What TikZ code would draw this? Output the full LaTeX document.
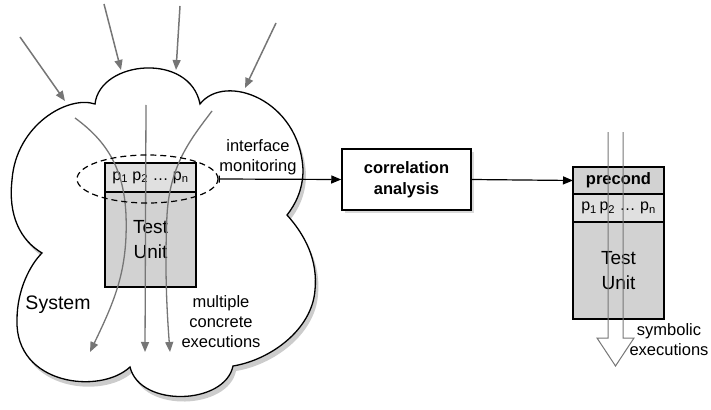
\documentclass[tikz,border=0pt]{standalone}
\usepackage{fontspec}
\setmainfont{Liberation Sans}
\usepackage{tikz}
\usetikzlibrary{arrows.meta,positioning,shapes.geometric,shadows}

\definecolor{unitgray}{RGB}{210,210,210}
\definecolor{rowgray}{RGB}{224,224,224}
\definecolor{flowgray}{RGB}{118,118,118}

\tikzset{
    lbl/.style={align=center, inner sep=0pt, font=\fontsize{16.5}{20}\selectfont},
    unitbox/.style={draw, line width=1.2pt, fill=unitgray, minimum width=91pt, inner sep=0pt, outer sep=0pt, align=center, font=\fontsize{19}{25}\selectfont},
    rowbox/.style={draw, line width=1.2pt, fill=rowgray, minimum width=91pt, inner sep=0pt, outer sep=0pt, font=\fontsize{16}{18}\selectfont},
    prebox/.style={draw, line width=2.8pt, fill=unitgray, minimum width=91pt, minimum height=27pt, inner sep=0pt, outer sep=0pt, font=\bfseries\fontsize{16.5}{20}\selectfont},
    corrbox/.style={draw, line width=1.5pt, fill=white, minimum width=129pt, minimum height=61pt, align=center, font=\bfseries\fontsize{16.5}{21}\selectfont, drop shadow={opacity=.3, shadow xshift=3pt, shadow yshift=-3pt}},
    feed/.style={draw=flowgray, fill=flowgray, line width=1.5pt, ->},
    run/.style={draw=flowgray, line width=1.3pt, ->}
}

\begin{document}
\begin{tikzpicture}[x=1pt, y=-1pt, >={Triangle[length=10pt,width=8pt]}, node distance=0pt]
    \useasboundingbox (0,0) rectangle (711,409);

    % System cloud
    \path [draw, fill=white, line width=1.3pt, drop shadow={opacity=.4, shadow xshift=3pt, shadow yshift=-5pt}]
        (95,104) .. controls (100,60) and (190,52) .. (200,104)
        .. controls (225,72) and (300,100) .. (303,170)
        .. controls (303,190) and (295,205) .. (287,215)
        .. controls (305,235) and (318,260) .. (315,290)
        .. controls (312,330) and (270,360) .. (233,366)
        .. controls (225,405) and (140,408) .. (130,367)
        .. controls (100,395) and (15,385) .. (17,320)
        .. controls (17,290) and (30,265) .. (42,253)
        .. controls (20,240) and (8,215) .. (12,180)
        .. controls (16,125) and (68,95) .. (95,104) -- cycle;

    % Inputs into the system
    \foreach \sx/\sy/\ex/\ey [count=\i] in {20/37/65/101, 104/4/121/70, 180/6/176/70, 276/23/245/88} {
        \coordinate (in\i) at (\sx,\sy);
        \coordinate (hit\i) at (\ex,\ey);
        \path [feed] (in\i) -- (hit\i);
    }

    % Nodes {unit under test inside the system}
    \node [rowbox, minimum height=29pt]                 (rowL) at (150.5,177.5) {p\textsubscript{1} p\textsubscript{2} \dots\ p\textsubscript{n}};
    \node [unitbox, minimum height=95pt, below=of rowL]  (unitL)                 {Test\\Unit};

    % Concrete executions
    \coordinate (a0) at (75,118);   \coordinate (a1) at (90,352);
    \coordinate (b0) at (146,105);  \coordinate (b1) at (145,352);
    \coordinate (c0) at (212,111);  \coordinate (c1) at (170,352);
    \path [run] (a0) .. controls (108,142) and (124,170) .. (126,215) .. controls (128,270) and (115,300) .. (a1);
    \path [run] (b0) -- (b1);
    \path [run] (c0) .. controls (190,140) and (170,165) .. (167,215) .. controls (165,260) and (166,300) .. (c1);

    \node [ellipse, draw, dashed, dash pattern=on 6pt off 4pt, line width=1.2pt, minimum width=141pt, minimum height=48pt, inner sep=0pt] (iface) at (147.5,179) {};

    \node [lbl, font=\fontsize{19.5}{22}\selectfont] (sys) at (58,305) {System};
    \node [lbl] (multi) at (221,322) {multiple\\concrete\\executions};
    \node [lbl] (mon)   at (258,157) {interface\\monitoring};

    % Nodes {analysis and symbolic side}
    \node [corrbox]                                               (corr)  at (406.5,179.5) {correlation\\analysis};
    \node [unitbox, minimum height=97pt]                          (unitR) at (618.5,270.5) {Test\\Unit};
    \node [rowbox, minimum height=28pt, above=of unitR]           (rowR)                   {p\textsubscript{1}\,p\textsubscript{2} \dots\ p\textsubscript{n}};
    \node [prebox, above=of rowR]                                 (pre)                    {precond};

    % Symbolic executions
    \draw [flowgray, line width=1pt] (608,132) -- (608,338) -- (597,338) -- (615.5,366) -- (634,338) -- (623,338) -- (623,132);
    \node [lbl] (sym) at (669,340) {symbolic\\executions};

    % Paths
    \path [arrows={Bar[width=7pt]-Triangle[length=10pt,width=8pt]}, line width=1.2pt] (iface.east) edge (corr.west);
    \path [->, line width=1.2pt] (corr.east) edge (pre.west);

\end{tikzpicture}
\end{document}
